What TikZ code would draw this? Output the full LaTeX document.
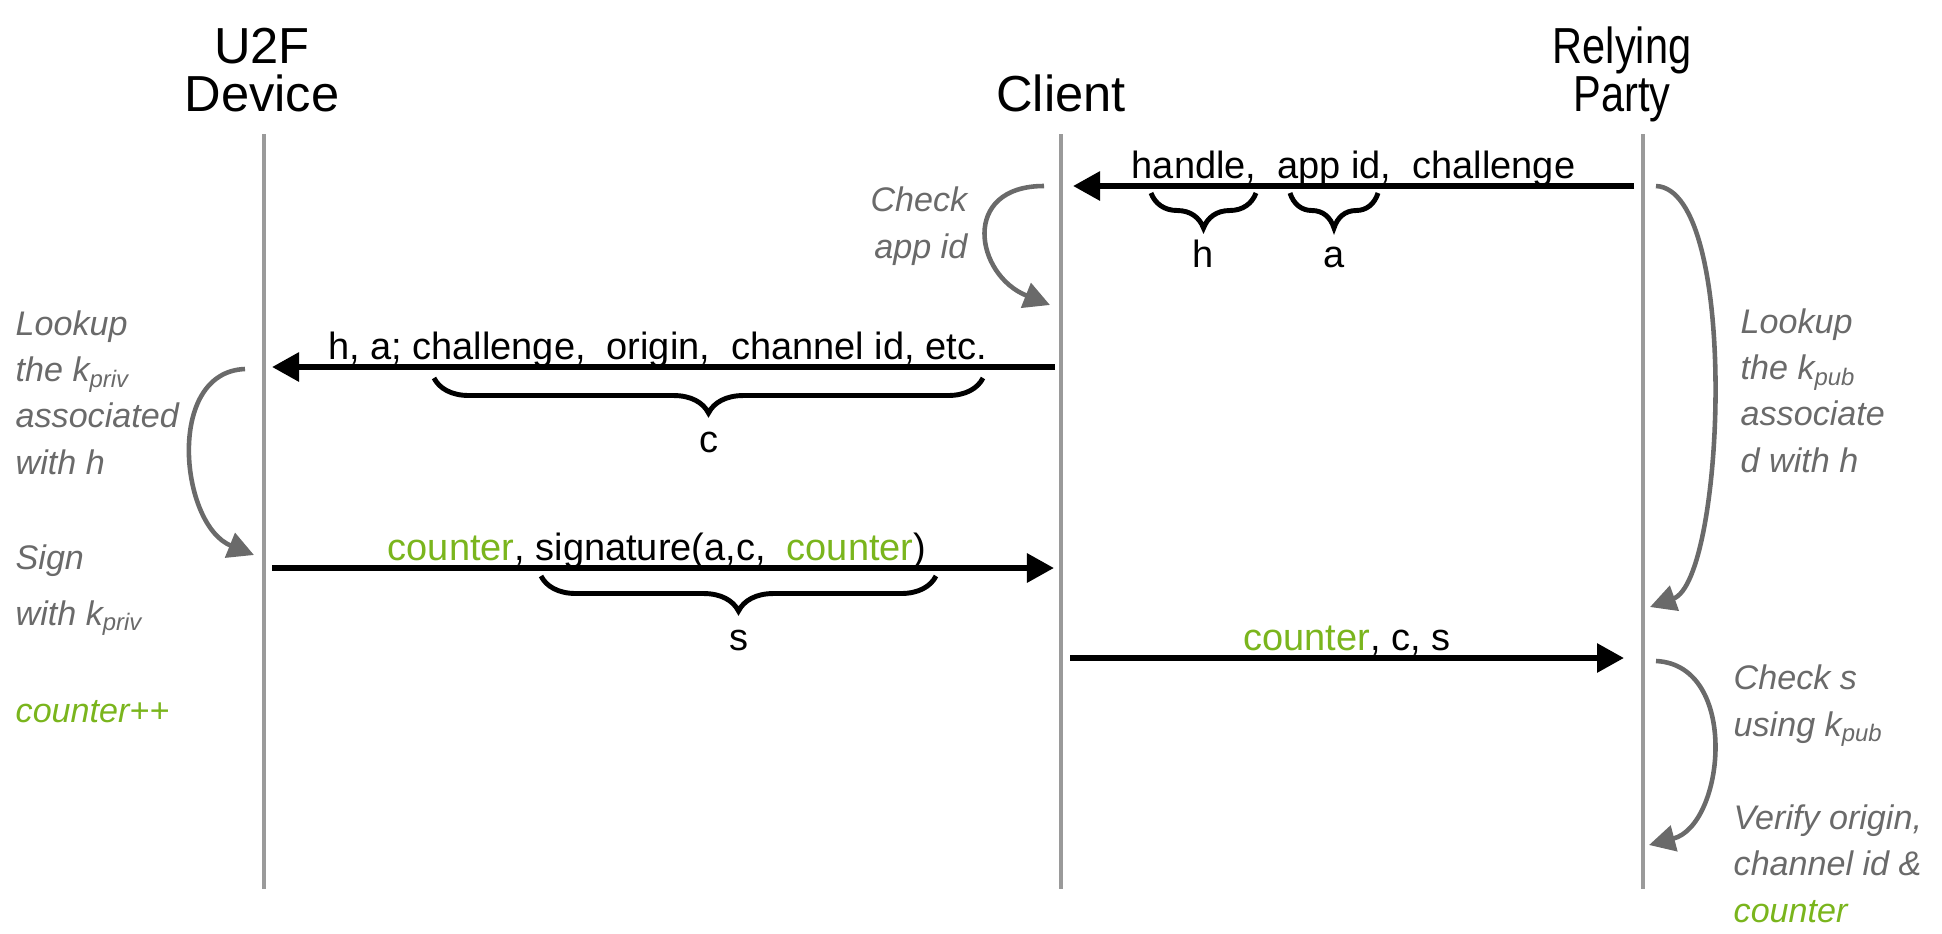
\documentclass[tikz,border=0pt]{standalone}
\usepackage{fontspec}
\setmainfont{Liberation Sans}
\newfontfamily\condensedsans{Liberation Sans}[FakeStretch=0.82]
\usepackage{tikz}
\usetikzlibrary{arrows.meta, decorations.pathreplacing}
\usepackage{xcolor}
\definecolor{lifeGray}{HTML}{9A9A9A}
\definecolor{noteGray}{HTML}{6A6A6A}
\definecolor{ctrGreen}{HTML}{7AB51D}
\newcommand{\ctr}[1]{\textcolor{ctrGreen}{#1}}

\begin{document}
\begin{tikzpicture}[
    x=0.01cm, y=-0.01cm,
    header/.style={font=\fontsize{14.4}{13.6}\selectfont, align=center, inner sep=0pt, text depth=0pt, anchor=south},
    lifeline/.style={draw=lifeGray, line width=1.3pt},
    msg/.style={-{Triangle[length=0.27cm, width=0.28cm]}, line width=1.7pt},
    msglabel/.style={font=\fontsize{10.8}{13}\selectfont, inner sep=0pt, anchor=base, yshift=0.08cm},
    brace/.style={decorate, decoration={brace, mirror, amplitude=0.35cm}, line width=1.4pt},
    bracelabel/.style={font=\fontsize{10.8}{13}\selectfont, inner sep=0pt, anchor=base, yshift=-0.74cm},
    note/.style={font=\fontsize{9.7}{13.1}\selectfont\itshape, text=noteGray, align=left, inner sep=0pt, anchor=base west},
    loop/.style={draw=noteGray, line width=1.3pt, -{Triangle[length=0.26cm, width=0.26cm]}}
]
    \useasboundingbox (0,0) rectangle (1942,933);

    % Parties
    \node[header] (dev) at (262,112) {U2F\\Device};
    \node[header] (cli) at (1061,112) {Client};
    \node[header, font=\condensedsans\fontsize{14.4}{13.6}\selectfont] (rp) at (1622,112) {Relying\\Party};

    % Lifelines
    \foreach \name/\x in {dev/264, cli/1061, rp/1643} {
        \coordinate (\name top) at (\x,134);
        \coordinate (\name bot) at (\x,889);
        \draw[lifeline] (\name top) -- (\name bot);
    }

    % Message ends
    \coordinate (m1 from) at (1634,186);
    \coordinate (m1 to) at (1073,186);
    \coordinate (m2 from) at (1055,367);
    \coordinate (m2 to) at (272,367);
    \coordinate (m3 from) at (272,568);
    \coordinate (m3 to) at (1054,568);
    \coordinate (m4 from) at (1070,658);
    \coordinate (m4 to) at (1624,658);

    % Messages
    \draw[msg] (m1 from) -- node[msglabel] (m1 text) {handle,~ app id,~ challenge} (m1 to);
    \draw[msg] (m2 from) -- node[msglabel, xshift=-0.06cm] (m2 text) {h, a; challenge,~ origin,~ channel id, etc.} (m2 to);
    \draw[msg] (m3 from) -- node[msglabel, xshift=-0.06cm] (m3 text) {\ctr{counter}, signature(a,c,~ \ctr{counter})} (m3 to);
    \draw[msg] (m4 from) -- node[msglabel] (m4 text) {\ctr{counter}, c, s} (m4 to);

    % Braces
    \draw[brace] (1151,193) -- node[bracelabel] (h lbl) {h} (1256,193);
    \draw[brace] (1290,193) -- node[bracelabel] (a lbl) {a} (1378,193);
    \draw[brace] (434,378) -- node[bracelabel] (c lbl) {c} (983,378);
    \draw[brace] (541,576) -- node[bracelabel] (s lbl) {s} (936,576);

    % Local steps
    \coordinate (cli chk a) at (1044,186);
    \coordinate (cli chk b) at (1050,305);
    \draw[loop] (cli chk a) .. controls (960,186) and (975,275) .. (cli chk b);
    \coordinate (dev sig a) at (245,369);
    \coordinate (dev sig b) at (254,555);
    \draw[loop] (dev sig a) .. controls (165,372) and (180,525) .. (dev sig b);
    \coordinate (rp key a) at (1656,186);
    \coordinate (rp key b) at (1650,607);
    \draw[loop] (rp key a) .. controls (1740,190) and (1725,580) .. (rp key b);
    \coordinate (rp ver a) at (1656,661);
    \coordinate (rp ver b) at (1649,845);
    \draw[loop] (rp ver a) .. controls (1740,665) and (1725,825) .. (rp ver b);

    % Notes (placed at the baseline of their last line)
    \node[note, anchor=base east, align=right] (cli check) at (968,258) {Check\\app id};
    \node[note] (dev lookup) at (15,474) {Lookup\\the k\textsubscript{priv}\\associated\\with h};
    \node[note] (dev sign) at (15,625) {Sign\\[0.09cm]with k\textsubscript{priv}};
    \node[note, text=ctrGreen] (dev count) at (15,722) {counter++};
    \node[note] (rp lookup) at (1740,472) {Lookup\\the k\textsubscript{pub}\\associate\\d with h};
    \node[note] (rp check) at (1733,736) {Check s\\using k\textsubscript{pub}};
    \node[note] (rp verify) at (1733,922) {Verify origin,\\channel id \&\\\ctr{counter}};
\end{tikzpicture}
\end{document}
